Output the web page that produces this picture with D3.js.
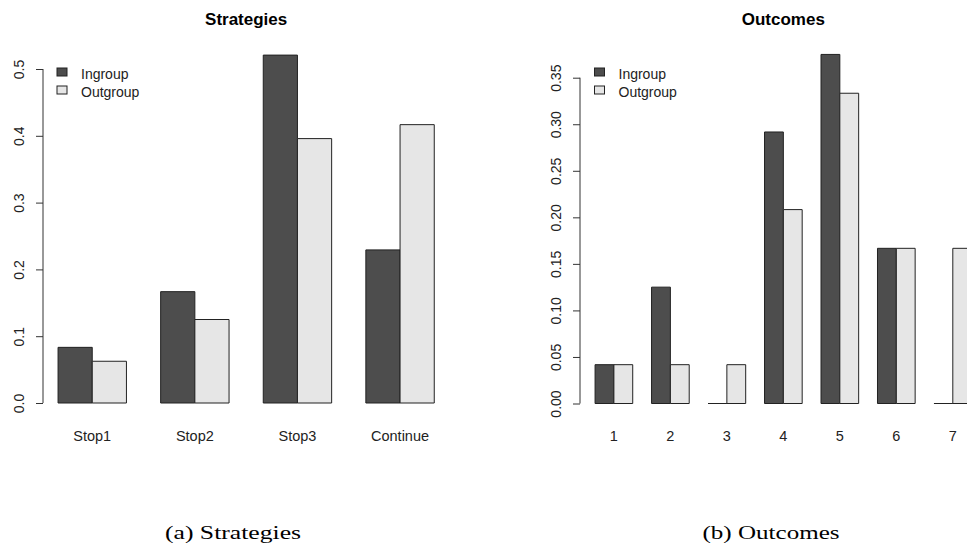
<!DOCTYPE html>
<html>
<head>
<meta charset="utf-8">
<script src="https://cdn.jsdelivr.net/npm/d3@7"></script>
<style>
  html, body { margin: 0; padding: 0; background: #fff; }
  svg { display: block; }
</style>
</head>
<body>
<svg id="fig" width="967" height="545"></svg>
<script>
// Panel (a): strategy shares
const strategyCats = ["Stop1", "Stop2", "Stop3", "Continue"];
const strategyIngroup = [0.0833, 0.1667, 0.5208, 0.2292];
const strategyOutgroup = [0.0625, 0.125, 0.3958, 0.4167];
const strategyTicks = [0, 0.1, 0.2, 0.3, 0.4, 0.5];

// Panel (b): outcome shares
const outcomeCats = ["1", "2", "3", "4", "5", "6", "7"];
const outcomeIngroup = [0.0417, 0.125, 0, 0.2917, 0.375, 0.1667, 0];
const outcomeOutgroup = [0.0417, 0.0417, 0.0417, 0.2083, 0.3333, 0.1667, 0.1667];
const outcomeTicks = [0, 0.05, 0.1, 0.15, 0.2, 0.25, 0.3, 0.35];

const seriesNames = ["Ingroup", "Outgroup"];
const seriesFill = ["#4d4d4d", "#e6e6e6"];

const svg = d3.select("#fig");
const sans = "'Liberation Sans', Arial, sans-serif";

function panel(opts) {
  const g = svg.append("g");
  const n = opts.cats.length;
  // each group holds two unit-wide bars followed by one unit of space
  const uMin = 1, uMax = 3 * n;
  const pad = (uMax - uMin) * 0.04;
  const x = d3.scaleLinear().domain([uMin - pad, uMax + pad]).range([opts.left, opts.right]);
  const y = d3.scaleLinear().domain([0, d3.max(opts.ticks)]).range([opts.bottom, opts.top]);

  const rows = [];
  opts.cats.forEach((c, i) => {
    [opts.a, opts.b].forEach((vals, s) => {
      rows.push({ u0: 1 + 3 * i + s, v: vals[i], s });
    });
  });

  g.selectAll("path.bar").data(rows).join("path")
    .attr("class", "bar")
    .attr("d", d => {
      const x0 = x(d.u0), x1 = x(d.u0 + 1), y0 = y(0), y1 = y(d.v);
      return `M${x0},${y0}L${x0},${y1}L${x1},${y1}L${x1},${y0}Z`;
    })
    .attr("fill", d => seriesFill[d.s])
    .attr("stroke", "#222")
    .attr("stroke-width", 1);

  // y axis with rotated labels
  const ax = g.append("g")
    .attr("transform", `translate(${opts.left},0)`)
    .call(d3.axisLeft(y).tickValues(opts.ticks).tickFormat(d3.format(opts.fmt)).tickSize(7).tickSizeOuter(0));
  ax.select(".domain").attr("stroke", "#333").attr("d", `M0,${y(0)}V${y(d3.max(opts.ticks))}`);
  ax.selectAll(".tick line").attr("stroke", "#333");
  ax.selectAll(".tick text")
    .attr("x", null).attr("dy", "0.35em")
    .attr("text-anchor", "middle")
    .attr("transform", "translate(-24,0) rotate(-90)")
    .attr("font-family", sans).attr("font-size", 14).attr("fill", "#222");

  // category labels
  g.selectAll("text.cat").data(opts.cats).join("text")
    .attr("class", "cat")
    .attr("x", (c, i) => x(2 + 3 * i))
    .attr("y", 441)
    .attr("text-anchor", "middle")
    .attr("font-family", sans).attr("font-size", 14.5).attr("fill", "#222")
    .text(c => c);

  // title
  g.append("text")
    .attr("x", (opts.left + opts.right) / 2).attr("y", 25)
    .attr("text-anchor", "middle")
    .attr("font-family", sans).attr("font-size", 17).attr("font-weight", "bold")
    .text(opts.title);

  // legend
  const lg = g.append("g");
  seriesNames.forEach((name, s) => {
    lg.append("rect")
      .attr("x", opts.legendX).attr("y", 68 + 18 * s)
      .attr("width", 10).attr("height", 8)
      .attr("fill", seriesFill[s]).attr("stroke", "#222");
    lg.append("text")
      .attr("x", opts.legendX + 24).attr("y", 79 + 18 * s)
      .attr("font-family", sans).attr("font-size", 14).attr("fill", "#222")
      .text(name);
  });

  // caption
  svg.append("text")
    .attr("x", opts.capX).attr("y", 539)
    .attr("text-anchor", "middle")
    .attr("font-family", "'Liberation Serif', 'DejaVu Serif', serif")
    .attr("font-size", 19)
    .attr("textLength", opts.capLen).attr("lengthAdjust", "spacingAndGlyphs")
    .text(opts.caption);
}

panel({
  cats: strategyCats, a: strategyIngroup, b: strategyOutgroup, ticks: strategyTicks,
  fmt: ".1f", left: 43, right: 449.3, top: 69, bottom: 403,
  title: "Strategies", legendX: 57, caption: "(a) Strategies", capX: 233, capLen: 136
});

panel({
  cats: outcomeCats, a: outcomeIngroup, b: outcomeOutgroup, ticks: outcomeTicks,
  fmt: ".2f", left: 580, right: 986.7, top: 77.7, bottom: 403.5,
  title: "Outcomes", legendX: 594.5, caption: "(b) Outcomes", capX: 771, capLen: 137
});
</script>
</body>
</html>
